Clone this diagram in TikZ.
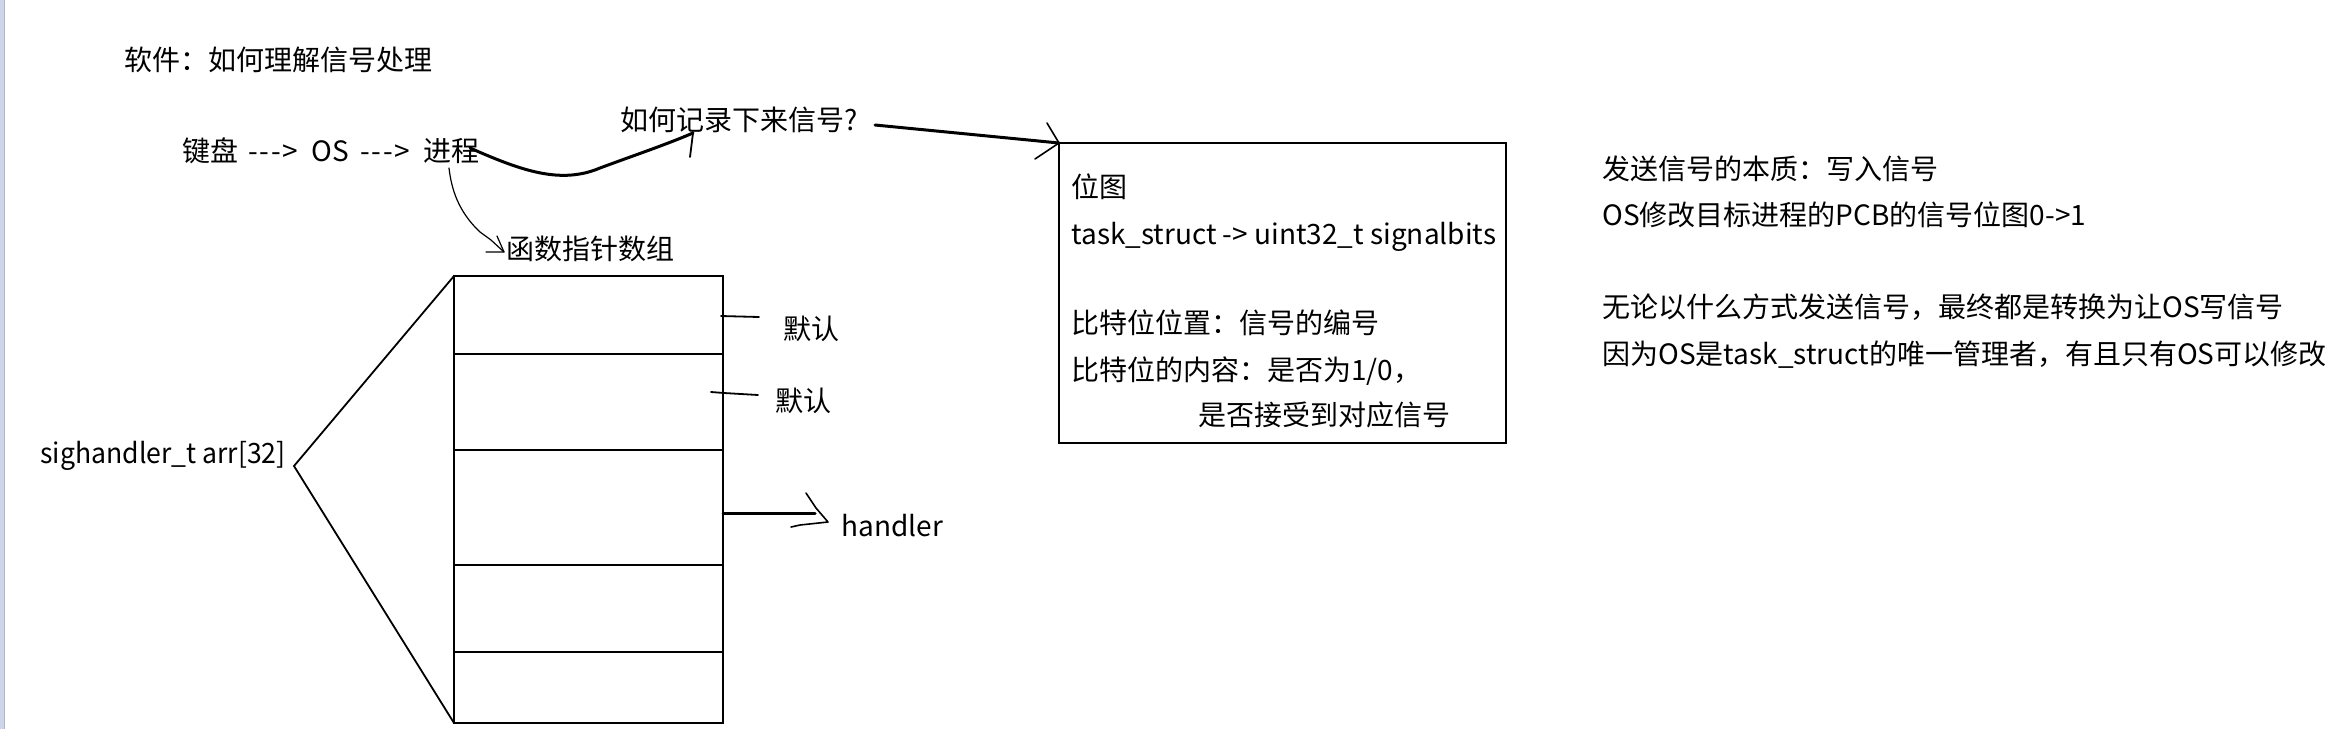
\documentclass[tikz,border=0pt]{standalone}
\usepackage{fontspec}
\setmainfont{Noto Sans CJK SC}
\definecolor{stripfill}{RGB}{205,213,232}
\definecolor{stripline}{RGB}{170,182,210}
\newcommand{\dasharrowtext}{\makebox[25pt][s]{-\hfill-\hfill-\hfill>}}
\begin{document}
\begin{tikzpicture}[x=0.5pt,y=-0.5pt,
  txt/.style={anchor=west,inner sep=0pt,font=\fontsize{14pt}{17pt}\selectfont,text height=0.8em,text depth=0.2em},
  thick line/.style={line width=1.5pt,line cap=round,line join=round},
  thin line/.style={line width=0.6pt,line cap=round,line join=round},
  box line/.style={line width=1.1pt}]
\useasboundingbox (0,0) rectangle (2349,729);
\fill[white] (0,0) rectangle (2349,729);
\fill[stripfill] (0,0) rectangle (5,729);
\draw[stripline,line width=0.5pt] (4.5,0) -- (4.5,729);

% title
\node[txt] (title) at (124,64) {软件：如何理解信号处理};
\node[txt] (kb) at (182,155) {键盘};
\node[txt] (ar1) at (248,155) {\dasharrowtext};
\node[txt] (os) at (311,155) {OS};
\node[txt] (ar2) at (360,155) {\dasharrowtext};
\node[txt] (proc) at (423,155) {进程};
\node[txt] (q) at (620,124) {如何记录下来信号?};

% curve from 进程 to question
\coordinate (c0) at (470,148);
\coordinate (c1) at (693,133);
\draw[thick line] (c0) .. controls (520,170) and (560,185) .. (600,168) .. controls (635,155) and (665,145) .. (c1);
\draw[thin line,line width=0.9pt] (c1) -- (690,157);

% bitmap box
\coordinate (boxtl) at (1059,143);
\coordinate (boxbr) at (1506,443);
\draw[box line] (boxtl) rectangle (boxbr);
\node[txt] (b1) at (1071,191) {位图};
\node[txt] (b2) at (1071,238) {task\_struct -> uint32\_t signalbits};
\node[txt] (b3) at (1071,327) {比特位位置：信号的编号};
\node[txt] (b4) at (1071,374) {比特位的内容：是否为1/0，};
\node[txt] (b5) at (1198,419) {是否接受到对应信号};

% arrow from question to box
\coordinate (qa) at (875,125);
\draw[thick line] (qa) -- (boxtl);
\draw[thin line,line width=0.8pt] (1047,123) -- (boxtl) -- (1035,159);

% right notes
\node[txt] (r1) at (1602,173) {发送信号的本质：写入信号};
\node[txt] (r2) at (1602,219) {OS修改目标进程的PCB的信号位图0->1};
\node[txt] (r3) at (1602,311) {无论以什么方式发送信号，最终都是转换为让OS写信号};
\node[txt] (r4) at (1602,358) {因为OS是task\_struct的唯一管理者，有且只有OS可以修改};

% function pointer array
\node[txt] (fp) at (506,253) {函数指针数组};
\coordinate (p0) at (449,168);
\coordinate (p1) at (504,252);
\draw[thin line] (p0) .. controls (452,195) and (462,215) .. (480,232) -- (491,240) -- (p1);
\draw[thin line] (486,252) -- (p1) -- (497,236);

% array
\coordinate (atl) at (454,276);
\coordinate (abl) at (454,723);
\coordinate (apex) at (294,466);
\draw[box line] (atl) rectangle (723,723);
\draw[box line] (454,354) -- (723,354);
\draw[box line] (454,450) -- (723,450);
\draw[box line] (454,565) -- (723,565);
\draw[box line] (454,652) -- (723,652);
\draw[line width=0.9pt] (atl) -- (apex) -- (abl);
\node[txt] (arr) at (40,457) {\scalebox{0.95}[1]{sighandler\_t arr[32]}};

% labels
\node[txt] (d1) at (783,333) {默认};
\draw[thin line,line width=0.9pt] (721,316) -- (759,317);
\node[txt] (d2) at (775,405) {默认};
\draw[thin line,line width=0.9pt] (711,392) -- (724,393) -- (758,395);
\node[txt] (h) at (841,530) {handler};
\draw[thick line] (723,513) -- (815,513);
\draw[thin line,line width=0.8pt] (806,493) -- (816,508) -- (828,522) -- (800,525) -- (791,527);
\end{tikzpicture}
\end{document}
